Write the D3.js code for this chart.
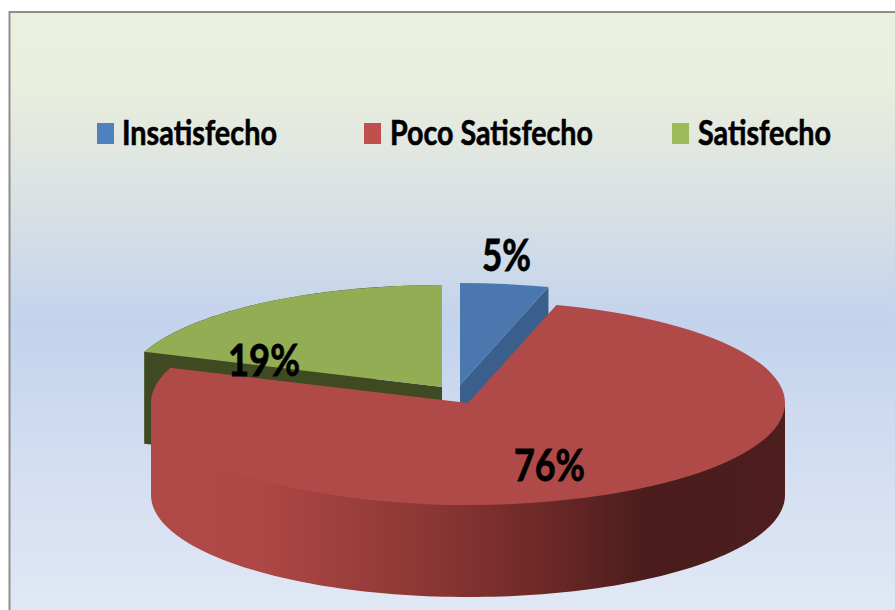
<!DOCTYPE html>
<html><head><meta charset="utf-8">
<script src="https://cdn.jsdelivr.net/npm/d3@7"></script>
<style>html,body{margin:0;background:#fff}svg{display:block}</style></head>
<body><svg id="c" width="895" height="610"></svg>
<script>
const categories = ["Insatisfecho", "Poco Satisfecho", "Satisfecho"];
const values = [4.5, 76.1, 19.4];
const topColors = ["#4a78ae", "#b04a48", "#93ad54"];
const legendColors = ["#4f81bd", "#c0504d", "#9bbb59"];
const sideColors = ["#3a5f8c", "#b04a48", "#3f4a22"];

const svg = d3.select("#c");
const defs = svg.append("defs");
const bg = defs.append("linearGradient").attr("id","bg").attr("x1",0).attr("y1",0).attr("x2",0).attr("y2",1);
[[0,"#ebefde"],[0.12,"#eaeedd"],[0.3,"#dbe2e3"],[0.52,"#c3d3ed"],[0.75,"#d3def1"],[1,"#e1e8f5"]]
 .forEach(([o,c])=>bg.append("stop").attr("offset",o).attr("stop-color",c));
const wall = defs.append("linearGradient").attr("id","wall").attr("gradientUnits","userSpaceOnUse")
  .attr("x1",151).attr("x2",785).attr("y1",0).attr("y2",0);
[[0,"#b04a48"],[0.16,"#ae4846"],[0.39,"#923a38"],[0.55,"#7a2e2c"],[0.79,"#4a1c1c"],[1,"#4e1e1e"]]
 .forEach(([o,c])=>wall.append("stop").attr("offset",o).attr("stop-color",c));

svg.append("rect").attr("x",9.5).attr("y",12).attr("width",890).attr("height",602)
  .attr("fill","url(#bg)").attr("stroke","#8e8e8e").attr("stroke-width",2);

const rx = 317, ry = 102, depth = 92;
const centers = [[460,385],[468,403],[442,387]];
const rScale = d3.scaleLinear().domain([0,1]).range([0,rx]);
const pie = d3.pie().sort(null).value(d=>d);
const arcs = pie(values);
const arc = d3.arc().innerRadius(0).outerRadius(rScale(1));
const pt = (c,a,r=1,dy=0)=>[c[0]+rScale(r)*Math.sin(a), c[1]-ry*r*Math.cos(a)+dy];
const line = d3.line();

function wallPath(c,a0,a1,lift=0){
  const angles = d3.range(0,121).map(i=>a0+(a1-a0)*i/120);
  const up = angles.map(a=>pt(c,a,1,-lift));
  const dn = angles.map(a=>pt(c,a,1,depth)).reverse();
  return line(up.concat(dn))+"Z";
}
function face(c,a){
  const o=pt(c,a), o2=pt(c,a,1,depth);
  return line([c,o,o2,[c[0],c[1]+depth]])+"Z";
}
function drawTop(i){
  svg.append("path").attr("d",arc(arcs[i]))
    .attr("transform",`translate(${centers[i]}) scale(1,${ry/rx})`).attr("fill",topColors[i]);
}
// green (back)
svg.append("path").attr("d",wallPath(centers[2],arcs[2].startAngle,Math.PI*2)).attr("fill",sideColors[2]);
svg.append("path").attr("d",face(centers[2],arcs[2].startAngle)).attr("fill",sideColors[2]);
drawTop(2);
// blue (back)
svg.append("path").attr("d",face(centers[0],arcs[0].endAngle)).attr("fill",sideColors[0]);
drawTop(0);
// red wall across the visible front half, then the top
const front = [Math.PI/2, Math.PI*1.5];
svg.append("path").attr("d",wallPath(centers[1],front[0],front[1],3)).attr("fill","url(#wall)");
drawTop(1);

// legend
const legendSwatchX = [97,364,672], legendTextX=[122,390,698], legendTextW=[155,203,133];
categories.forEach((name,i)=>{
  svg.append("rect").attr("x",legendSwatchX[i]).attr("y",123).attr("width",17).attr("height",21).attr("fill",legendColors[i]);
  svg.append("text").attr("x",legendTextX[i]).attr("y",145).text(name)
   .attr("font-family","Lato").attr("font-weight",700).attr("font-size",34)
   .attr("textLength",legendTextW[i]).attr("lengthAdjust","spacingAndGlyphs")
   .attr("fill","#000").attr("stroke","#000").attr("stroke-width",0.6);
});
// data labels
const labelPos=[[482,271,49],[228,376,72],[514,481,71]];
[0,2,1].forEach((i,k)=>{
  const p=labelPos[k];
  svg.append("text").attr("x",p[0]).attr("y",p[1]).text(Math.round(values[i])+"%")
   .attr("font-family","Lato").attr("font-weight",700).attr("font-size",44)
   .attr("textLength",p[2]).attr("lengthAdjust","spacingAndGlyphs")
   .attr("fill","#000").attr("stroke","#000").attr("stroke-width",0.8);
});
</script></body></html>
